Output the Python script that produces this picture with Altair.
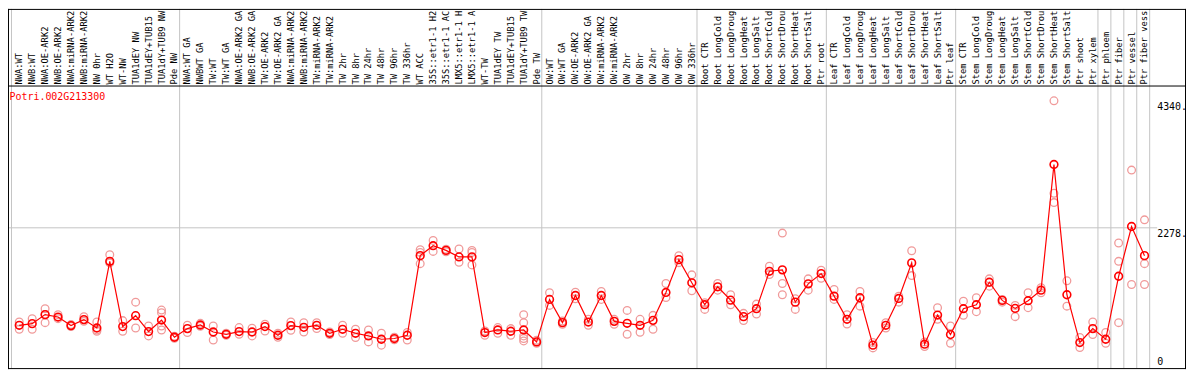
import altair as alt
import pandas as pd

gene = "Potri.002G213300"

categories = [
    "NWA:WT", "NWB:WT", "NWA:OE-ARK2", "NWB:OE-ARK2", "NWA:miRNA-ARK2", "NWB:miRNA-ARK2",
    "NW 0hr", "WT H2O", "WT-NW", "TUA1dEY NW", "TUA1dEY+TUB15 NW", "TUA1dY+TUB9 NW", "Pde NW",
    "NWA:WT GA", "NWBWT GA", "TW:WT", "TW:WT GA", "NWA:OE-ARK2 GA", "NWB:OE-ARK2 GA",
    "TW:OE-ARK2", "TW:OE-ARK2 GA", "NWA:miRNA-ARK2 GA", "NWB:miRNA-ARK2 GA", "TW:miRNA-ARK2",
    "TW:miRNA-ARK2 GA", "TW 2hr", "TW 8hr", "TW 24hr", "TW 48hr", "TW 96hr", "TW 336hr",
    "WT ACC", "35S::etr1-1 H2O", "35S::etr1-1 ACC", "LMX5::etr1-1 H2O", "LMX5::etr1-1 ACC",
    "WT-TW", "TUA1dEY TW", "TUA1dEY+TUB15 TW", "TUA1dY+TUB9 TW", "Pde TW",
    "OW:WT", "OW:WT GA", "OW:OE-ARK2", "OW:OE-ARK2 GA", "OW:miRNA-ARK2", "OW:miRNA-ARK2 GA",
    "OW 2hr", "OW 8hr", "OW 24hr", "OW 48hr", "OW 96hr", "OW 336hr",
    "Root CTR", "Root LongCold", "Root LongDrought", "Root LongHeat", "Root LongSalt",
    "Root ShortCold", "Root ShortDrought", "Root ShortHeat", "Root ShortSalt", "Ptr root",
    "Leaf CTR", "Leaf LongCold", "Leaf LongDrought", "Leaf LongHeat", "Leaf LongSalt",
    "Leaf ShortCold", "Leaf ShortDrought", "Leaf ShortHeat", "Leaf ShortSalt", "Ptr leaf",
    "Stem CTR", "Stem LongCold", "Stem LongDrought", "Stem LongHeat", "Stem LongSalt",
    "Stem ShortCold", "Stem ShortDrought", "Stem ShortHeat", "Stem ShortSalt", "Ptr shoot",
    "Ptr xylem", "Ptr phloem", "Ptr fiber", "Ptr vessel", "Ptr fiber vessel",
]

means = [
    695, 722, 868, 829, 690, 787, 651, 1733, 674, 851, 593, 780, 501,
    641, 700, 586, 549, 593, 586, 674, 533, 690, 662, 695, 565, 630, 565, 522, 468, 480, 533,
    1826, 1987, 1911, 1805, 1805, 577, 619, 598, 619, 425,
    1115, 738, 1179, 748, 1179, 759, 727, 695, 775, 1228, 1761, 1385,
    1029, 1320, 1103, 835, 964, 1572, 1595, 1071, 1368, 1535,
    1168, 792, 1142, 372, 695, 1131, 1708, 388, 861, 544,
    964, 1029, 1394, 1099, 969, 1094, 1265, 3307, 1191, 415, 641,
    468, 1491, 2299, 1826,
]

replicates = [
    [748, 630], [803, 630], [964, 738, 870], [868, 803], [706, 674], [835, 759],
    [748, 619, 598], [1842, 1708], [771, 598], [1071, 651], [683, 522],
    [942, 900, 683, 619], [517, 485],
    [695, 577], [727, 679], [683, 457], [565, 533], [658, 549], [646, 522], [711, 603],
    [565, 501], [748, 614], [738, 586], [738, 641], [586, 544], [695, 565], [630, 496],
    [619, 425], [565, 372], [500, 460], [577, 457],
    [1922, 1879, 1696], [2073, 1895], [1930, 1890], [1934, 1717], [1911, 1879, 1675],
    [603, 533], [658, 565], [641, 533], [868, 738, 522, 480, 441], [452, 404],
    [1223, 1018], [764, 711], [1233, 1126], [792, 695], [1244, 1115], [792, 711],
    [937, 549], [792, 582], [856, 630], [1373, 1147], [1826, 1712], [1514, 1255],
    [1061, 953], [1373, 1265], [1191, 1029], [889, 771], [1039, 877], [1653, 1519],
    [2192, 1373, 1191], [1126, 953], [1449, 1265], [1588, 1459],
    [1276, 1115], [868, 716], [1244, 1006], [415, 328], [738, 651], [1168, 1071],
    [1906, 1502], [425, 351], [981, 792], [683, 404],
    [1087, 856], [1142, 916], [1449, 1330], [1115, 1071], [1018, 835], [1223, 981],
    [1304, 1223], [4340, 2838, 2687], [1417, 1006], [496, 334], [748, 544],
    [577, 404], [2031, 1733, 738], [3215, 1357], [2407, 1696, 1357],
]

group_ends = [-1, 12, 40, 52, 62, 72, 83, 84, 85, 86, 87]
grid_values = [2278]
y_ticks = [0, 2278, 4340]
y_tick_labels = ["0", "2278.", "4340."]

W, H = 1184, 362
FONT = "DejaVu Sans Mono"
RED = "#ff0000"
PINK = "#f09a9a"
GRAY = "#c4c4c4"

main = pd.DataFrame({"idx": list(range(len(categories))), "cat": categories, "mean": means})
reps = pd.DataFrame([{"idx": i, "value": v} for i, vs in enumerate(replicates) for v in vs])
seps = pd.DataFrame({"end": group_ends})
grid = pd.DataFrame({"value": grid_values})
ticks = pd.DataFrame({"value": y_ticks, "label": y_tick_labels})
title_df = pd.DataFrame({"t": [gene]})

xs = alt.Scale(domain=[-0.8692, 90.208], nice=False, zero=False)
ys = alt.Scale(domain=[-16.16, 5832.4], nice=False, zero=False)

sep_rules = alt.Chart(seps).transform_calculate(pos="datum.end + 0.4").mark_rule(
    color=GRAY, strokeWidth=1
).encode(x=alt.X("pos:Q", scale=xs, axis=None), y=alt.value(0), y2=alt.value(361))

grid_rules = alt.Chart(grid).mark_rule(color=GRAY, strokeWidth=1).encode(
    y=alt.Y("value:Q", scale=ys, axis=None), x=alt.value(0), x2=alt.value(1155)
)

frame_top = alt.Chart(title_df).mark_rule(color="black", strokeWidth=1).encode(
    x=alt.value(0), x2=alt.value(W), y=alt.value(0.5))
frame_mid = alt.Chart(title_df).mark_rule(color="black", strokeWidth=1).encode(
    x=alt.value(0), x2=alt.value(W), y=alt.value(77.5))
frame_bot = alt.Chart(title_df).mark_rule(color="black", strokeWidth=1).encode(
    x=alt.value(0), x2=alt.value(W), y=alt.value(361.5))
frame_left = alt.Chart(title_df).mark_rule(color="black", strokeWidth=1).encode(
    x=alt.value(0.5), y=alt.value(0), y2=alt.value(362))
frame_right = alt.Chart(title_df).mark_rule(color="black", strokeWidth=1).encode(
    x=alt.value(1183.5), y=alt.value(0), y2=alt.value(362))

rep_pts = alt.Chart(reps).mark_point(
    shape="circle", filled=False, color=PINK, size=60, strokeWidth=1.3, opacity=1
).encode(x=alt.X("idx:Q", scale=xs, axis=None), y=alt.Y("value:Q", scale=ys, axis=None))

line = alt.Chart(main).mark_line(color=RED, strokeWidth=1.2).encode(
    x=alt.X("idx:Q", scale=xs, axis=None), y=alt.Y("mean:Q", scale=ys, axis=None)
)
mean_pts = alt.Chart(main).mark_point(
    shape="circle", filled=False, color=RED, size=60, strokeWidth=1.6, opacity=1
).encode(x=alt.X("idx:Q", scale=xs, axis=None), y=alt.Y("mean:Q", scale=ys, axis=None))

# the header strip only shows the first 14 characters of each condition name
cat_labels = alt.Chart(main).transform_calculate(
    shown="substring(datum.cat, 0, 14)"
).mark_text(
    angle=270, align="left", baseline="middle", font=FONT, fontSize=8.8, color="black"
).encode(x=alt.X("idx:Q", scale=xs, axis=None), y=alt.value(76), text="shown:N")

tick_top = alt.Chart(ticks).transform_filter("datum.value > 0").mark_text(
    align="left", baseline="top", font=FONT, fontSize=10, color="black", dy=1
).encode(x=alt.value(1155), y=alt.Y("value:Q", scale=ys, axis=None), text="label:N")
tick_zero = alt.Chart(ticks).transform_filter("datum.value == 0").mark_text(
    align="left", baseline="bottom", font=FONT, fontSize=10, color="black", dy=-1
).encode(x=alt.value(1155), y=alt.Y("value:Q", scale=ys, axis=None), text="label:N")

title = alt.Chart(title_df).mark_text(
    align="left", baseline="top", font=FONT, fontSize=10, color=RED
).encode(x=alt.value(1.5), y=alt.value(84), text="t:N")

chart = alt.layer(
    sep_rules, grid_rules, frame_top, frame_mid, frame_bot, frame_left, frame_right,
    rep_pts, line, mean_pts, cat_labels, tick_top, tick_zero, title
).properties(
    width=W, height=H, autosize=alt.AutoSizeParams(type="none"), padding=0, background="white"
).configure_view(stroke=None)

chart.save("out.html", embed_options={"renderer": "svg", "actions": False})
